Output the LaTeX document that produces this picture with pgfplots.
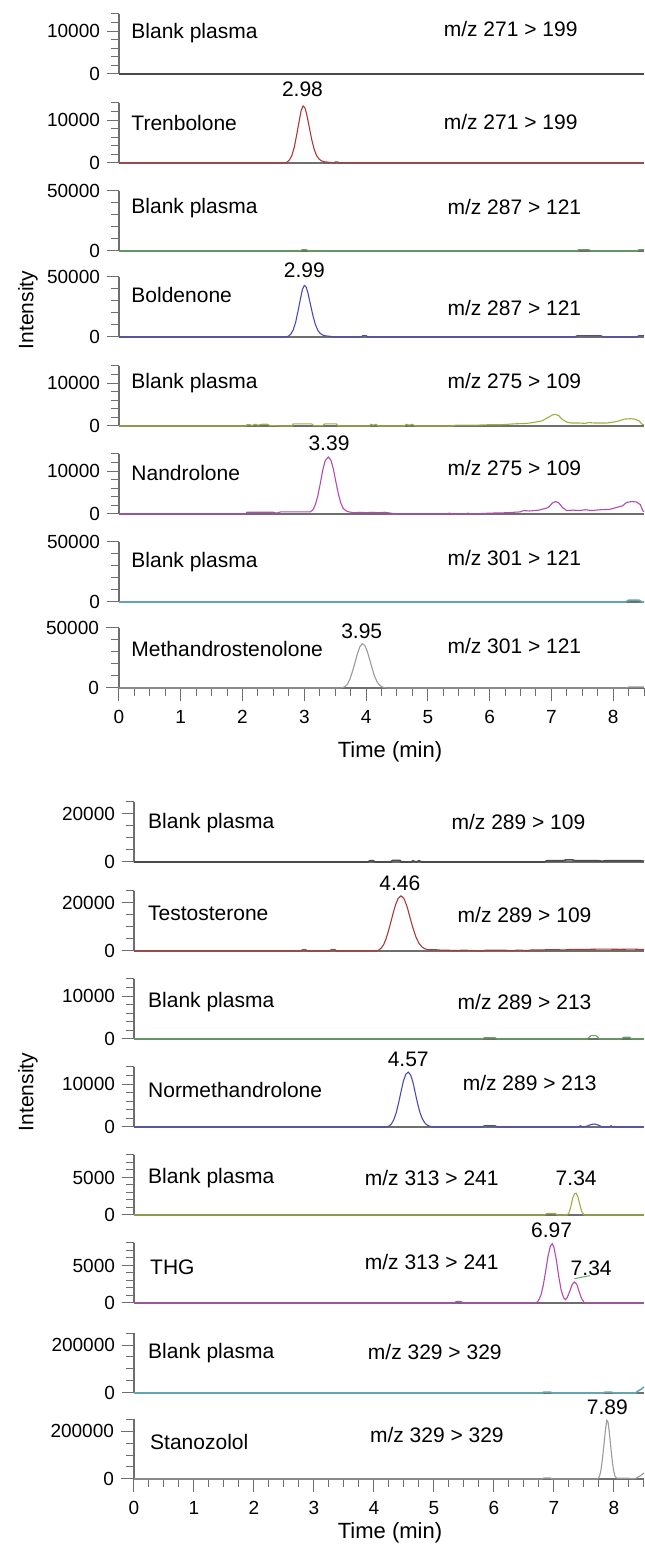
\documentclass[border=0pt]{standalone}
\usepackage{fontspec}
\setmainfont{Liberation Sans}
\usepackage{pgfplots}
\pgfplotsset{compat=1.18}
\definecolor{axgray}{HTML}{6E6E6E}
\definecolor{cdark}{HTML}{4A4A4A}
\definecolor{cred}{HTML}{A83A3A}
\definecolor{cgreen}{HTML}{5FA85F}
\definecolor{cblue}{HTML}{4B4BB4}
\definecolor{colive}{HTML}{A3AD3E}
\definecolor{cmag}{HTML}{B04CB0}
\definecolor{cteal}{HTML}{62A6B4}
\definecolor{cgray}{HTML}{9A9A9A}
\tikzset{lab/.style={font=\fontsize{10.5}{12}\selectfont, inner sep=0pt}}
\pgfplotsset{
 chrom/.style={
  scale only axis, height=30pt, xmin=0, xmax=8.5, ymin=0,
  axis x line*=bottom, axis y line*=left,
  axis line style={draw=axgray, line width=0.7pt, -},
  tick style={draw=axgray, line width=0.5pt},
  tick align=outside,
  major tick length=6pt, minor tick length=4pt,
  xtick=\empty,
  scaled y ticks=false, scaled x ticks=false,
  clip=false,
  anchor=south west,
  /pgf/number format/assume math mode=true,
  tick label style={font=\fontsize{9.5}{11}\selectfont},
  every axis plot/.append style={line width=0.55pt, mark=none},
 },
 topp/.style={chrom, width=262.5pt, at={(59.5pt,#1)}},
 botp/.style={chrom, width=255pt, at={(67pt,#1)}},
 y14/.style={ymax=14000, ytick={0,10000}, yticklabels={0,10000}, minor ytick={2000,4000,6000,8000,12000,14000}},
 y50/.style={ymax=50000, ytick={0,50000}, yticklabels={0,50000}, minor ytick={10000,20000,30000,40000}},
 y25/.style={ymax=25000, ytick={0,20000}, yticklabels={0,20000}, minor ytick={5000,10000,15000,25000}},
 y8/.style={ymax=8000, ytick={0,5000}, yticklabels={0,5000}, minor ytick={1000,2000,3000,4000,6000,7000,8000}},
 y250/.style={ymax=250000, ytick={0,200000}, yticklabels={0,200000}, minor ytick={50000,100000,150000,250000}},
 xbot/.style={xtick={0,1,2,3,4,5,6,7,8}, xticklabels={0,1,2,3,4,5,6,7,8}, minor xtick={0.25,0.5,0.75,1.25,1.5,1.75,2.25,2.5,2.75,3.25,3.5,3.75,4.25,4.5,4.75,5.25,5.5,5.75,6.25,6.5,6.75,7.25,7.5,7.75,8.25,8.5}, major tick length=6.5pt, xticklabel style={yshift=-1pt}},
}
\begin{document}
\begin{tikzpicture}
\useasboundingbox (0,0) rectangle (322pt,772pt);
% ---------------- top panel ----------------
\begin{axis}[topp=735pt, y14]
\addplot[cdark, line width=0.8pt] coordinates {(0,0)(8.5,0)};
\node[lab,anchor=west] at (rel axis cs:0.023,0.68) {Blank plasma};
\node[lab,anchor=west] at (rel axis cs:0.618,0.75) {m/z 271 > 199};
\end{axis}
\begin{axis}[topp=690.5pt, y14]
\addplot[cred] coordinates {(0,0)(2.68,0)(2.72,200)(2.76,700)(2.80,1800)(2.84,3800)(2.88,6800)(2.92,10000)(2.95,12300)(2.98,13300)(3.01,12900)(3.04,11300)(3.08,8400)(3.12,5500)(3.16,3200)(3.20,1700)(3.24,900)(3.28,500)(3.32,300)(3.38,200)(3.44,100)(3.47,0)(3.50,250)(3.54,250)(3.57,0)(8.5,0)};
\node[lab,anchor=west] at (rel axis cs:0.023,0.67) {Trenbolone};
\node[lab,anchor=west] at (rel axis cs:0.618,0.68) {m/z 271 > 199};
\node[lab] at (axis cs:2.97,17100) {2.98};
\end{axis}
\begin{axis}[topp=646.5pt, y50]
\addplot[cgreen] coordinates {(0,0)(2.93,0)(2.97,1200)(3.03,1200)(3.07,0)(7.40,0)(7.45,1200)(7.60,1200)(7.66,0)(8.38,0)(8.42,1200)(8.5,1200)};
\node[lab,anchor=west] at (rel axis cs:0.023,0.72) {Blank plasma};
\node[lab,anchor=west] at (rel axis cs:0.625,0.73) {m/z 287 > 121};
\end{axis}
\begin{axis}[topp=603.5pt, y50]
\addplot[cblue] coordinates {(0,0)(2.70,0)(2.74,600)(2.78,2300)(2.82,5800)(2.86,12300)(2.90,22000)(2.94,32300)(2.97,39700)(3.00,43000)(3.03,41700)(3.06,36500)(3.10,27100)(3.14,17800)(3.18,10300)(3.22,5500)(3.26,2900)(3.30,1600)(3.34,1000)(3.40,600)(3.46,300)(3.50,0)(3.92,0)(3.95,1200)(4.00,1200)(4.03,0)(7.38,0)(7.42,1200)(7.80,1200)(7.84,0)(8.38,0)(8.42,1200)(8.5,1200)};
\node[lab,anchor=west] at (rel axis cs:0.023,0.70) {Boldenone};
\node[lab,anchor=west] at (rel axis cs:0.625,0.48) {m/z 287 > 121};
\node[lab] at (axis cs:3.0,56000) {2.99};
\end{axis}
\begin{axis}[topp=559pt, y14]
\addplot[colive] coordinates {(0,0)(2.05,0)(2.07,300)(2.12,300)(2.15,100)(2.20,400)(2.25,200)(2.32,400)(2.40,400)(2.45,100)(2.55,100)(2.6,0)(2.80,0)(2.82,500)(3.12,500)(3.15,100)(3.30,100)(3.33,500)(3.52,500)(3.55,0)(4.05,0)(4.08,400)(4.12,200)(4.16,400)(4.20,0)(4.62,0)(4.65,400)(4.70,200)(4.75,400)(4.80,0)(5.40,0)(5.45,200)(5.80,200)(6.00,300)(6.20,300)(6.40,500)(6.60,600)(6.70,800)(6.85,1200)(6.95,2000)(7.02,2600)(7.07,2700)(7.12,2400)(7.18,1500)(7.25,900)(7.32,700)(7.45,700)(7.55,600)(7.60,800)(7.70,700)(7.90,700)(8.00,900)(8.10,1200)(8.18,1600)(8.28,1700)(8.35,1600)(8.42,1200)(8.47,400)(8.5,300)};
\node[lab,anchor=west] at (rel axis cs:0.023,0.72) {Blank plasma};
\node[lab,anchor=west] at (rel axis cs:0.625,0.75) {m/z 275 > 109};
\end{axis}
\begin{axis}[topp=515pt, y14]
\addplot[cmag] coordinates {(0,0)(2.05,0)(2.07,400)(2.50,400)(2.55,200)(2.62,500)(3.05,500)(3.10,500)(3.14,1000)(3.18,2200)(3.22,4300)(3.26,7200)(3.30,10300)(3.34,12500)(3.39,13300)(3.43,12600)(3.47,10500)(3.51,7600)(3.55,4800)(3.59,2600)(3.63,1300)(3.68,700)(3.72,500)(3.80,300)(3.90,400)(4.00,300)(4.10,400)(4.20,300)(4.30,400)(4.40,200)(4.50,0)(5.30,0)(5.35,200)(5.40,0)(5.60,0)(5.65,200)(5.70,0)(6.0,200)(6.30,300)(6.50,500)(6.55,800)(6.65,700)(6.80,900)(6.95,1500)(7.02,2600)(7.07,2900)(7.12,2600)(7.18,1500)(7.25,800)(7.35,900)(7.45,800)(7.55,1000)(7.65,800)(7.80,1000)(7.95,1100)(8.05,1500)(8.15,1900)(8.22,2700)(8.30,2900)(8.38,2800)(8.44,2200)(8.48,800)(8.5,500)};
\node[lab,anchor=west] at (rel axis cs:0.023,0.68) {Nandrolone};
\node[lab,anchor=west] at (rel axis cs:0.625,0.77) {m/z 275 > 109};
\node[lab] at (axis cs:3.40,16500) {3.39};
\end{axis}
\begin{axis}[topp=471pt, y50]
\addplot[cteal, line width=0.8pt] coordinates {(0,0)(8.20,0)(8.25,1500)(8.42,1500)(8.47,0)(8.5,0)};
\node[lab,anchor=west] at (rel axis cs:0.023,0.67) {Blank plasma};
\node[lab,anchor=west] at (rel axis cs:0.625,0.73) {m/z 301 > 121};
\end{axis}
\begin{axis}[topp=428pt, y50, xbot]
\addplot[cgray] coordinates {(0,0)(3.58,0)(3.62,300)(3.66,1200)(3.70,3300)(3.74,7600)(3.78,13700)(3.82,21000)(3.86,28500)(3.90,34300)(3.94,37000)(3.98,35500)(4.02,30500)(4.06,23500)(4.10,16000)(4.14,9500)(4.18,5000)(4.22,2300)(4.26,900)(4.30,300)(4.34,0)(8.22,0)(8.25,800)(8.5,800)};
\node[lab,anchor=west] at (rel axis cs:0.023,0.65) {Methandrostenolone};
\node[lab,anchor=west] at (rel axis cs:0.625,0.70) {m/z 301 > 121};
\node[lab] at (axis cs:3.93,47500) {3.95};
\end{axis}
\node[font=\fontsize{11}{13}\selectfont] at (195pt,396pt) {Time (min)};
\node[font=\fontsize{10.5}{12}\selectfont, rotate=90] at (14pt,617pt) {Intensity};
% ---------------- bottom panel ----------------
\begin{axis}[botp=341pt, y25]
\addplot[cdark, line width=0.8pt] coordinates {(0,0)(3.90,0)(3.93,500)(3.99,500)(4.02,0)(4.28,0)(4.31,700)(4.43,700)(4.46,0)(4.62,0)(4.65,500)(4.70,0)(4.75,500)(4.80,0)(6.84,0)(6.88,500)(7.15,500)(7.20,900)(7.30,900)(7.36,500)(7.75,500)(7.80,300)(7.85,500)(8.45,500)(8.5,300)};
\node[lab,anchor=west] at (rel axis cs:0.027,0.65) {Blank plasma};
\node[lab,anchor=west] at (rel axis cs:0.622,0.67) {m/z 289 > 109};
\end{axis}
\begin{axis}[botp=296.5pt, y25]
\addplot[cred] coordinates {(0,0)(2.78,0)(2.81,600)(2.86,600)(2.89,0)(3.26,0)(3.29,600)(3.35,600)(3.38,0)(4.04,0)(4.08,400)(4.12,1200)(4.16,2600)(4.20,5000)(4.24,8300)(4.28,12000)(4.32,15800)(4.36,19300)(4.40,21800)(4.45,23000)(4.50,21800)(4.55,18600)(4.60,14000)(4.65,9500)(4.70,5800)(4.75,3200)(4.80,1700)(4.85,900)(4.90,600)(4.95,500)(5.05,500)(5.15,300)(5.25,300)(5.35,200)(5.45,300)(5.55,300)(5.70,100)(5.80,0)(5.85,300)(6.0,300)(6.20,300)(6.30,100)(6.40,400)(6.55,200)(6.65,500)(6.80,400)(6.90,600)(7.05,600)(7.15,400)(7.30,700)(7.60,700)(7.80,800)(8.10,700)(8.30,800)(8.5,600)};
\node[lab,anchor=west] at (rel axis cs:0.027,0.63) {Testosterone};
\node[lab,anchor=west] at (rel axis cs:0.634,0.60) {m/z 289 > 109};
\node[lab] at (axis cs:4.43,28250) {4.46};
\end{axis}
\begin{axis}[botp=252.5pt, y14]
\addplot[cgreen] coordinates {(0,0)(5.80,0)(5.84,300)(6.02,300)(6.06,0)(7.55,0)(7.62,800)(7.70,800)(7.76,0)(8.12,0)(8.16,400)(8.26,400)(8.30,0)(8.5,0)};
\node[lab,anchor=west] at (rel axis cs:0.027,0.62) {Blank plasma};
\node[lab,anchor=west] at (rel axis cs:0.634,0.62) {m/z 289 > 213};
\end{axis}
\begin{axis}[botp=208.5pt, y14]
\addplot[cblue] coordinates {(0,0)(4.21,0)(4.25,200)(4.29,700)(4.33,1700)(4.37,3300)(4.41,5600)(4.45,8200)(4.49,10700)(4.53,12300)(4.57,12800)(4.61,12200)(4.65,10400)(4.69,7800)(4.73,5300)(4.77,3200)(4.81,1800)(4.85,900)(4.89,400)(4.93,200)(4.97,0)(5.80,0)(5.84,300)(6.02,300)(6.06,0)(7.40,0)(7.44,300)(7.48,0)(7.55,200)(7.62,600)(7.68,700)(7.75,400)(7.80,0)(7.92,0)(7.95,300)(7.98,0)(8.5,0)};
\node[lab,anchor=west] at (rel axis cs:0.027,0.62) {Normethandrolone};
\node[lab,anchor=west] at (rel axis cs:0.644,0.73) {m/z 289 > 213};
\node[lab] at (axis cs:4.57,15700) {4.57};
\end{axis}
\begin{axis}[botp=164.5pt, y8]
\addplot[colive] coordinates {(0,0)(6.84,0)(6.88,200)(7.02,200)(7.06,0)(7.22,0)(7.25,300)(7.28,1100)(7.31,2200)(7.34,2800)(7.37,2900)(7.40,2400)(7.43,1400)(7.46,500)(7.50,0)(8.5,0)};
\node[lab,anchor=west] at (rel axis cs:0.027,0.62) {Blank plasma};
\node[lab,anchor=west] at (rel axis cs:0.452,0.62) {m/z 313 > 241};
\node[lab] at (axis cs:7.37,4960) {7.34};
\end{axis}
\begin{axis}[botp=120.5pt, y8]
\addplot[cmag] coordinates {(0,0)(5.34,0)(5.37,200)(5.45,200)(5.48,0)(6.70,0)(6.74,300)(6.78,1000)(6.82,2300)(6.86,4200)(6.90,6200)(6.94,7600)(6.97,7900)(7.00,7400)(7.04,5700)(7.08,3500)(7.12,1700)(7.16,700)(7.19,450)(7.22,700)(7.26,1500)(7.30,2400)(7.34,2800)(7.38,2500)(7.42,1500)(7.46,600)(7.50,100)(7.53,0)(8.5,0)};
\draw[cgreen, line width=0.5pt] (axis cs:7.34,3240) -- (axis cs:7.6,3650);
\node[lab,anchor=west] at (rel axis cs:0.031,0.60) {THG};
\node[lab,anchor=west] at (rel axis cs:0.452,0.68) {m/z 313 > 241};
\node[lab] at (axis cs:6.96,9760) {6.97};
\node[lab] at (axis cs:7.62,4640) {7.34};
\end{axis}
\begin{axis}[botp=75.5pt, y250]
\addplot[cteal, line width=0.8pt] coordinates {(0,0)(6.80,0)(6.83,3500)(6.94,3500)(6.97,0)(7.82,0)(7.85,3500)(7.96,3500)(7.99,0)(8.36,0)(8.40,8000)(8.45,15000)(8.5,25000)};
\node[lab,anchor=west] at (rel axis cs:0.027,0.67) {Blank plasma};
\node[lab,anchor=west] at (rel axis cs:0.458,0.68) {m/z 329 > 329};
\end{axis}
\begin{axis}[botp=32.5pt, y250, xbot]
\addplot[cgray] coordinates {(0,0)(6.80,0)(6.83,4000)(6.94,4000)(6.97,0)(7.72,0)(7.74,3000)(7.76,12000)(7.78,33000)(7.80,68000)(7.82,112000)(7.84,160000)(7.86,210000)(7.88,245000)(7.90,238000)(7.92,200000)(7.94,150000)(7.96,100000)(7.98,58000)(8.00,28000)(8.02,10000)(8.05,3000)(8.25,3000)(8.30,1000)(8.36,2000)(8.40,8000)(8.45,15000)(8.5,25000)};
\node[lab,anchor=west] at (rel axis cs:0.031,0.62) {Stanozolol};
\node[lab,anchor=west] at (rel axis cs:0.462,0.73) {m/z 329 > 329};
\node[lab] at (axis cs:7.89,300000) {7.89};
\end{axis}
\node[font=\fontsize{11}{13}\selectfont] at (195pt,5.5pt) {Time (min)};
\node[font=\fontsize{10.5}{12}\selectfont, rotate=90] at (14pt,226pt) {Intensity};
\end{tikzpicture}
\end{document}
